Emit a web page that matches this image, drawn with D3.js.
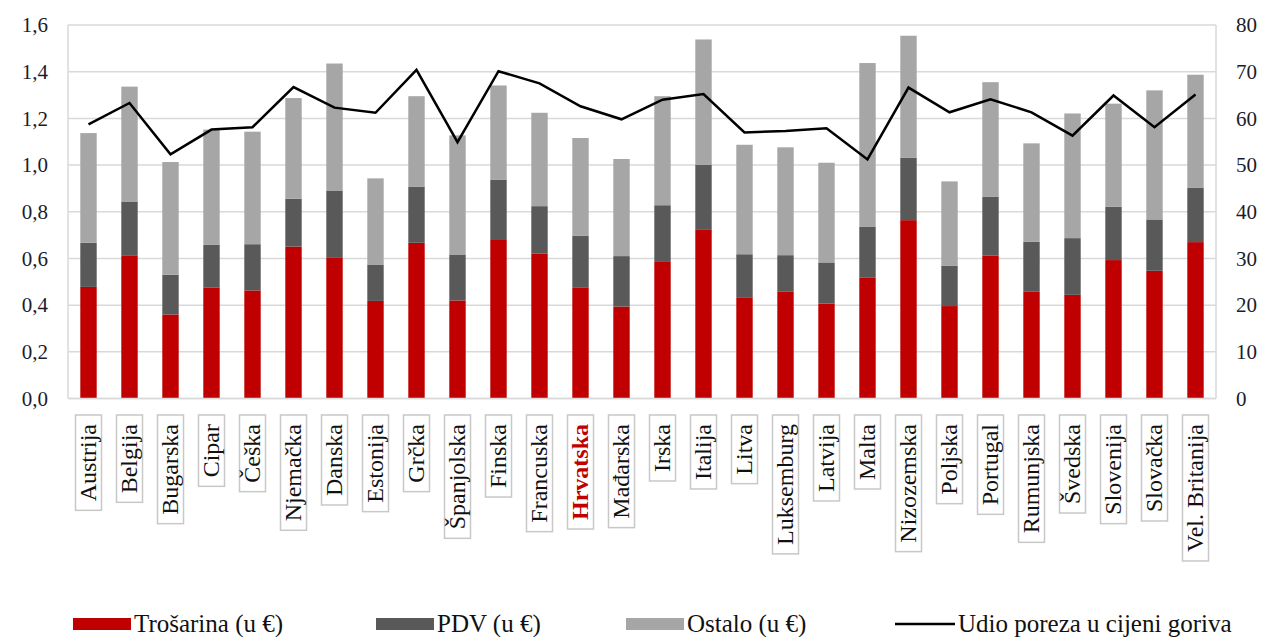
<!DOCTYPE html>
<html>
<head>
<meta charset="utf-8">
<script src="https://cdn.jsdelivr.net/npm/d3@7"></script>
<style>
  body { margin: 0; background: #fff; }
</style>
</head>
<body>
<div id="chart"></div>
<script>
// Data
var zemlje = ["Austrija", "Belgija", "Bugarska", "Cipar", "Češka", "Njemačka", "Danska", "Estonija",
  "Grčka", "Španjolska", "Finska", "Francuska", "Hrvatska", "Mađarska", "Irska", "Italija", "Litva",
  "Luksemburg", "Latvija", "Malta", "Nizozemska", "Poljska", "Portugal", "Rumunjska", "Švedska",
  "Slovenija", "Slovačka", "Vel. Britanija"];

var trosarina = [0.478, 0.611, 0.360, 0.476, 0.463, 0.651, 0.605, 0.418, 0.667, 0.420, 0.679, 0.620,
  0.474, 0.394, 0.585, 0.725, 0.431, 0.457, 0.407, 0.517, 0.764, 0.396, 0.613, 0.457, 0.444, 0.593,
  0.547, 0.670];

var pdv = [0.189, 0.233, 0.170, 0.182, 0.198, 0.205, 0.284, 0.156, 0.241, 0.197, 0.259, 0.204,
  0.224, 0.216, 0.243, 0.277, 0.187, 0.157, 0.176, 0.218, 0.268, 0.172, 0.252, 0.214, 0.243, 0.229,
  0.220, 0.232];

var ostalo = [0.470, 0.492, 0.483, 0.494, 0.482, 0.431, 0.546, 0.369, 0.387, 0.510, 0.403, 0.400,
  0.418, 0.416, 0.467, 0.536, 0.469, 0.462, 0.427, 0.702, 0.522, 0.362, 0.490, 0.422, 0.534, 0.441,
  0.553, 0.485];

var udio = [58.7, 63.3, 52.3, 57.6, 58.1, 66.7, 62.3, 61.2, 70.4, 54.9, 70.1, 67.5, 62.6, 59.8,
  64.0, 65.2, 57.0, 57.3, 57.9, 51.2, 66.6, 61.3, 64.1, 61.3, 56.3, 64.9, 58.1, 65.1];

var lijeviTicks = [0, 0.2, 0.4, 0.6, 0.8, 1.0, 1.2, 1.4, 1.6];
var desniTicks = [0, 10, 20, 30, 40, 50, 60, 70, 80];

var serije = ["trosarina", "pdv", "ostalo"];
var nazivi = ["Trošarina (u €)", "PDV (u €)", "Ostalo (u €)", "Udio poreza u cijeni goriva"];
var boje = { trosarina: "#c00000", pdv: "#595959", ostalo: "#a6a6a6" };

var width = 1266;
var height = 637;

// plot area
var plotLeft = 68, plotRight = 1216, plotTop = 25, plotBottom = 398.5;

var svg = d3.select("#chart").append("svg")
  .attr("width", width)
  .attr("height", height);

var rows = zemlje.map(function(z, i) {
  return { zemlja: z, trosarina: trosarina[i], pdv: pdv[i], ostalo: ostalo[i], udio: udio[i] };
});

var xScale = d3.scaleBand()
  .domain(zemlje)
  .range([plotLeft, plotRight])
  .paddingInner(0.6)
  .paddingOuter(0.3);

var yScale = d3.scaleLinear().domain([0, 1.6]).range([plotBottom, plotTop]);
var y2Scale = d3.scaleLinear().domain([0, 80]).range([plotBottom, plotTop]);

// gridlines
svg.append("g")
  .selectAll("line")
  .data(lijeviTicks)
  .enter()
  .append("line")
  .attr("x1", plotLeft)
  .attr("x2", plotRight)
  .attr("y1", function(d) { return yScale(d); })
  .attr("y2", function(d) { return yScale(d); })
  .attr("stroke", "#d9d9d9")
  .attr("stroke-width", 1.5);

// plot border sides
svg.append("line").attr("x1", plotLeft).attr("x2", plotLeft).attr("y1", plotTop).attr("y2", plotBottom)
  .attr("stroke", "#d9d9d9").attr("stroke-width", 1.5);
svg.append("line").attr("x1", plotRight).attr("x2", plotRight).attr("y1", plotTop).attr("y2", plotBottom)
  .attr("stroke", "#d9d9d9").attr("stroke-width", 1.5);

// left axis
var yAxis = d3.axisLeft(yScale)
  .tickValues(lijeviTicks)
  .tickSize(0)
  .tickPadding(20)
  .tickFormat(function(d) { return d3.format(".1f")(d).replace(".", ","); });

svg.append("g")
  .attr("class", "yAxis")
  .attr("transform", "translate(" + plotLeft + ",0)")
  .call(yAxis)
  .call(function(g) { g.select(".domain").remove(); });

// right axis
var y2Axis = d3.axisRight(y2Scale)
  .tickValues(desniTicks)
  .tickSize(0)
  .tickPadding(20);

svg.append("g")
  .attr("class", "y2Axis")
  .attr("transform", "translate(" + plotRight + ",0)")
  .call(y2Axis)
  .call(function(g) { g.select(".domain").remove(); });

svg.selectAll(".yAxis text, .y2Axis text")
  .attr("font-family", "Liberation Serif")
  .attr("font-size", 21)
  .attr("fill", "#1c1c2c");

// stacked bars
var stack = d3.stack().keys(serije);
var slojevi = stack(rows);

svg.append("g")
  .selectAll("g")
  .data(slojevi)
  .enter()
  .append("g")
  .attr("fill", function(d) { return boje[d.key]; })
  .selectAll("rect")
  .data(function(d) { return d; })
  .enter()
  .append("rect")
  .attr("x", function(d) { return xScale(d.data.zemlja); })
  .attr("width", xScale.bandwidth())
  .attr("y", function(d) { return yScale(d[1]); })
  .attr("height", function(d) { return yScale(d[0]) - yScale(d[1]); });

// bottom axis line
svg.append("line").attr("x1", plotLeft).attr("x2", plotRight).attr("y1", plotBottom).attr("y2", plotBottom)
  .attr("stroke", "#d9d9d9").attr("stroke-width", 1.5);

// tax share line
var line = d3.line()
  .x(function(d) { return xScale(d.zemlja) + xScale.bandwidth() / 2; })
  .y(function(d) { return y2Scale(d.udio); });

svg.append("path")
  .datum(rows)
  .attr("d", line)
  .attr("fill", "none")
  .attr("stroke", "#000")
  .attr("stroke-width", 2.5);

// category labels in boxes
var labelTop = 415;
var labels = svg.append("g").selectAll("g").data(zemlje).enter().append("g");

labels.each(function(z) {
  var g = d3.select(this);
  var cx = xScale(z) + xScale.bandwidth() / 2;
  var hr = z === "Hrvatska";
  var t = g.append("text")
    .attr("transform", "translate(" + (cx + 7) + "," + (labelTop + 9) + ") rotate(-90)")
    .attr("text-anchor", "end")
    .attr("font-family", "Liberation Serif")
    .attr("font-size", 24)
    .attr("font-weight", hr ? "bold" : "normal")
    .attr("fill", hr ? "#c00000" : "#111")
    .text(z);
  var len = t.node().getComputedTextLength();
  g.insert("rect", "text")
    .attr("x", cx - 13)
    .attr("y", labelTop)
    .attr("width", 26)
    .attr("height", len + 18)
    .attr("fill", "#fff")
    .attr("stroke", "#c8c8c8")
    .attr("stroke-width", 1.5);
});

// legend
var legX = [73, 376, 626, 895];
var legend = svg.append("g").attr("class", "legend");
var legY = 624;

serije.forEach(function(s, i) {
  legend.append("rect")
    .attr("x", legX[i])
    .attr("y", legY - 6)
    .attr("width", 58)
    .attr("height", 12)
    .attr("fill", boje[s]);
});
legend.append("line")
  .attr("x1", legX[3]).attr("x2", legX[3] + 60)
  .attr("y1", legY).attr("y2", legY)
  .attr("stroke", "#000").attr("stroke-width", 2.5);

nazivi.forEach(function(n, i) {
  legend.append("text")
    .attr("x", legX[i] + (i === 3 ? 63 : 61))
    .attr("y", legY + 8)
    .attr("font-family", "Liberation Serif")
    .attr("font-size", 25)
    .attr("fill", "#111")
    .text(n);
});
</script>
</body>
</html>
